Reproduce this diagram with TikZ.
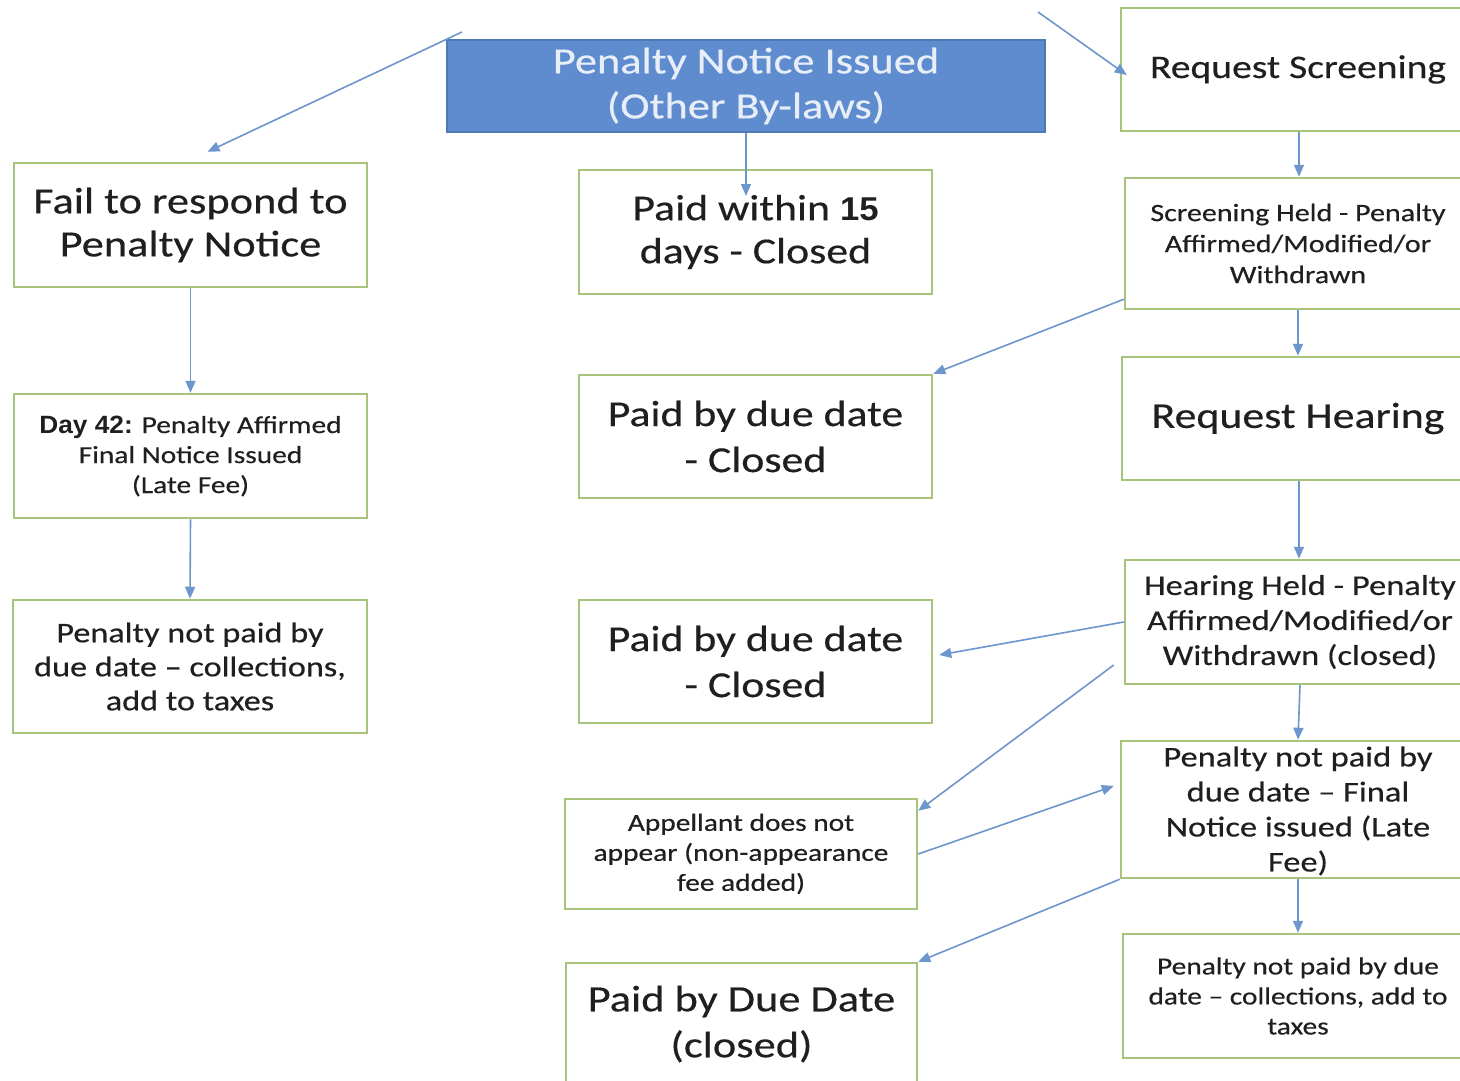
\documentclass[tikz,border=0pt]{standalone}
\usepackage{fontspec}
\setmainfont{Carlito}[FakeStretch=1.2,FakeBold=0.4]
\newfontfamily\arialf{Liberation Sans}[FakeStretch=1.05]
\usetikzlibrary{arrows.meta}
\definecolor{boxgreen}{HTML}{A8C47C}
\definecolor{topfill}{HTML}{5F8CCF}
\definecolor{topdraw}{HTML}{4E79B8}
\definecolor{arrowblue}{HTML}{6D96CC}
\definecolor{txt}{HTML}{1F1F1F}
\definecolor{toptxt}{HTML}{E8EEF8}
\newcommand\fsz[2]{\fontsize{#1}{#2}\selectfont}
\begin{document}
\begin{tikzpicture}[x=1pt,y=-1pt,
  box/.style={draw=boxgreen,line width=2.5pt,fill=white,inner sep=0pt,align=center,text=txt},
  topbox/.style={draw=topdraw,line width=2pt,fill=topfill,inner sep=0pt,align=center,text=toptxt},
  plain/.style={inner sep=0pt,align=center,text=txt},
  arr/.style={draw=arrowblue,line width=1.6pt,-{Triangle[length=12pt,width=10pt]}},
]
\useasboundingbox[fill=white] (0,0) rectangle (1460,1081);

% top
\node[topbox,minimum width=598pt,minimum height=92pt,font=\fsz{37}{45}] (top) at (746,86) {Penalty Notice Issued\\(Other By-laws)};

% left column
\node[box,minimum width=353pt,minimum height=124pt,font=\fsz{37}{43}] (fail) at (190.5,225) {Fail to respond to\\Penalty Notice};
\node[box,minimum width=353pt,minimum height=124pt,font=\fsz{24.5}{30}] (d42) at (190.5,456) {{\arialf\bfseries\fontsize{25}{30}\selectfont Day 42:} Penalty Affirmed\\Final Notice Issued\\(Late Fee)};
\node[box,minimum width=354pt,minimum height=133pt,font=\fsz{28.5}{34}] (lcoll) at (190,666.5) {Penalty not paid by\\due date -- collections,\\add to taxes};

% middle column
\node[box,minimum width=353pt,minimum height=124pt,font=\fsz{36.5}{43}] (p15) at (755.5,232) {Paid within {\arialf\bfseries\fontsize{33}{43}\selectfont 15}\\days - Closed};
\node[box,minimum width=353pt,minimum height=123pt,font=\fsz{36.5}{46}] (p1) at (755.5,436.5) {Paid by due date\\- Closed};
\node[box,minimum width=353pt,minimum height=123pt,font=\fsz{36.5}{46}] (p2) at (755.5,661.5) {Paid by due date\\- Closed};
\node[box,minimum width=352pt,minimum height=110pt,font=\fsz{24.5}{30}] (app) at (741,854) {Appellant does not\\appear (non-appearance\\fee added)};
\node[box,minimum width=351pt,minimum height=122pt,font=\fsz{37}{46}] (pd) at (741.5,1024) {Paid by Due Date\\(closed)};

% right column
\node[box,minimum width=354pt,minimum height=123pt,font=\fsz{33}{43}] (rs) at (1298,69.5) {Request Screening};
\node[box,minimum width=346pt,minimum height=131pt,font=\fsz{25}{31}] (sh) at (1298,243.5) {Screening Held - Penalty\\Affirmed/Modified/or\\Withdrawn};
\node[box,minimum width=352pt,minimum height=123pt,font=\fsz{36.5}{45}] (rh) at (1298,418.5) {Request Hearing};
\node[box,minimum width=350pt,minimum height=124pt,font=\fsz{28.7}{35}] (hh) at (1300,622) {Hearing Held - Penalty\\Affirmed/Modified/or\\Withdrawn (closed)};
\node[box,minimum width=354pt,minimum height=137pt] (fin) at (1298,809.5) {};
\node[plain,font=\fsz{28.7}{35}] (fintxt) at (1298,811) {Penalty not paid by\\due date -- Final\\Notice issued (Late\\Fee)};
\node[box,minimum width=350pt,minimum height=124pt,font=\fsz{24.5}{30}] (rc) at (1298,996) {Penalty not paid by due\\date -- collections, add to\\taxes};

% free start points
\coordinate (s1) at (462,32);
\coordinate (s2) at (1038,12);

% connectors
\draw[arr] (s1) -- ([xshift=17pt,yshift=10pt]fail.north);
\draw[arr] (s2) -- ([xshift=7pt,yshift=-5.5pt]rs.west);
\draw[arr] (top.south) -- ++(0,63);
\draw[arr] (fail.south) -- (d42.north);
\draw[arr] (d42.south) -- (lcoll.north);
\draw[arr] ([xshift=1pt]rs.south) -- ([xshift=1pt]sh.north);
\draw[arr] ([yshift=11pt]sh.south west) -- (p1.north east);
\draw[arr] (sh.south) -- (rh.north);
\draw[arr] ([xshift=1pt]rh.south) -- ([xshift=-1pt]hh.north);
\draw[arr] (hh.west) -- ([xshift=6pt,yshift=6.5pt]p2.east);
\draw[arr] ([xshift=-10pt,yshift=-43pt]hh.west) -- ([yshift=-13pt]app.north east);
\draw[arr] (app.east) -- ([xshift=-6pt,yshift=23.5pt]fin.west);
\draw[arr] (hh.south) -- (fin.north);
\draw[arr] (fin.south west) -- (pd.north east);
\draw[arr] (fin.south) -- (rc.north);
\end{tikzpicture}
\end{document}
